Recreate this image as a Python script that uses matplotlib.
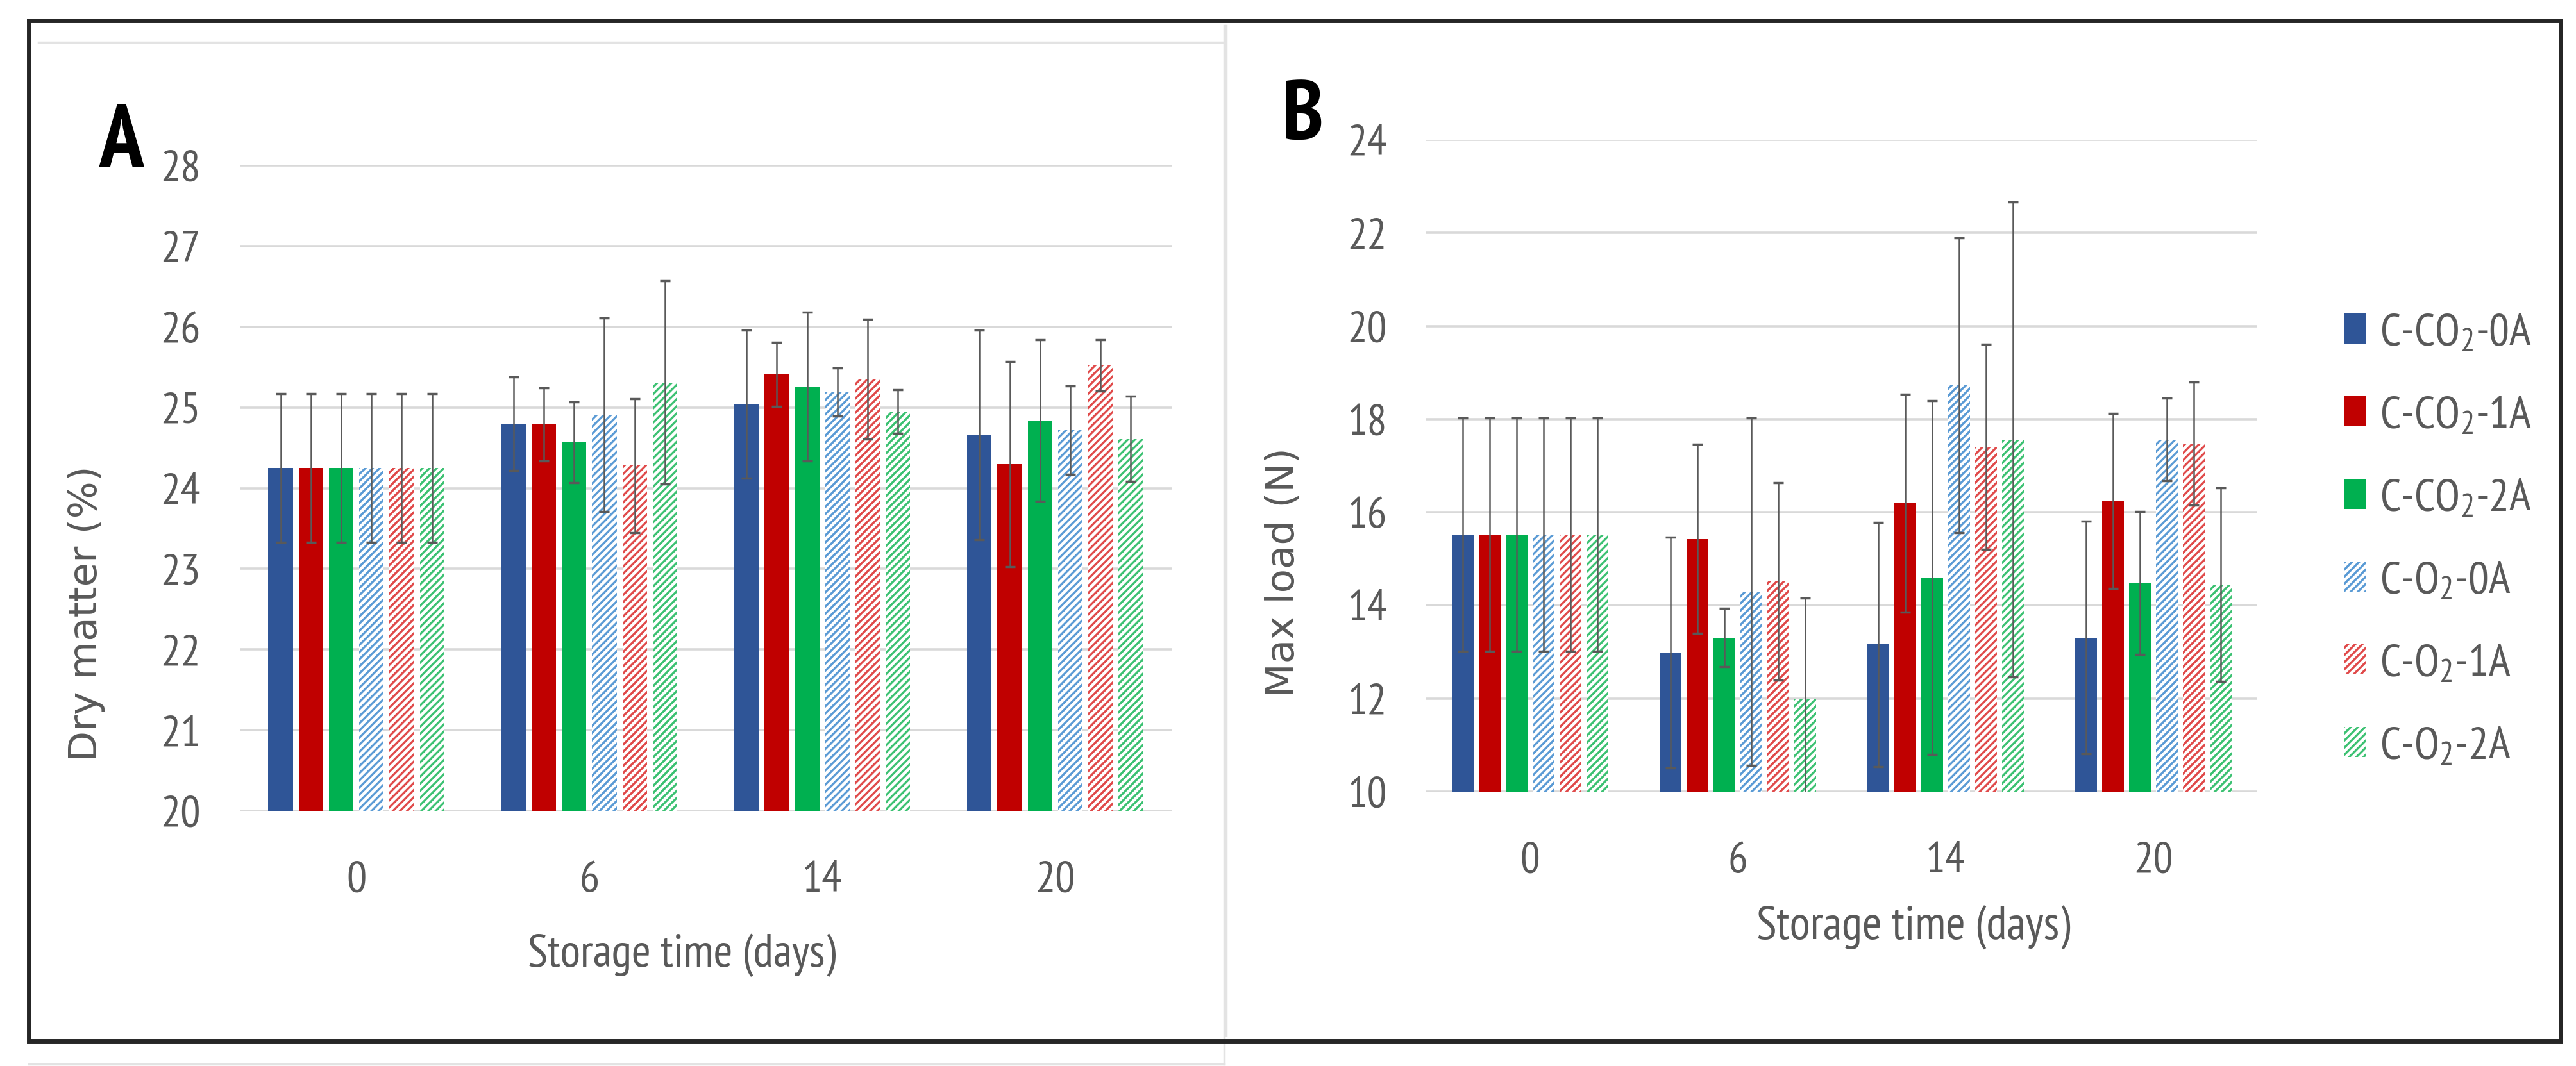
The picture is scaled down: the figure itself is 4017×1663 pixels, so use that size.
import numpy as np
import matplotlib
matplotlib.use("Agg")
import matplotlib.pyplot as plt
from matplotlib.lines import Line2D

plt.rcParams['font.family'] = ['PT Sans Narrow', 'DejaVu Sans']
plt.rcParams['mathtext.fontset'] = 'custom'
plt.rcParams['mathtext.rm'] = 'PT Sans Narrow'
plt.rcParams['mathtext.it'] = 'PT Sans Narrow'
plt.rcParams['hatch.linewidth'] = 2.4

days = ['0', '6', '14', '20']
series = ['C-CO$_2$-0A', 'C-CO$_2$-1A', 'C-CO$_2$-2A', 'C-O$_2$-0A', 'C-O$_2$-1A', 'C-O$_2$-2A']

# dry matter (%) - one list per series, values at day 0, 6, 14, 20
dm_co2_0a = [24.25, 24.80, 25.04, 24.66]
dm_co2_1a = [24.25, 24.79, 25.41, 24.30]
dm_co2_2a = [24.25, 24.57, 25.26, 24.84]
dm_o2_0a = [24.25, 24.91, 25.19, 24.72]
dm_o2_1a = [24.25, 24.28, 25.35, 25.52]
dm_o2_2a = [24.25, 25.31, 24.95, 24.61]
dm_err_co2_0a = [0.92, 0.58, 0.92, 1.30]
dm_err_co2_1a = [0.92, 0.45, 0.40, 1.27]
dm_err_co2_2a = [0.92, 0.50, 0.92, 1.00]
dm_err_o2_0a = [0.92, 1.20, 0.30, 0.55]
dm_err_o2_1a = [0.92, 0.83, 0.74, 0.32]
dm_err_o2_2a = [0.92, 1.26, 0.27, 0.53]

# max load (N)
ml_co2_0a = [15.52, 12.99, 13.16, 13.31]
ml_co2_1a = [15.52, 15.43, 16.19, 16.24]
ml_co2_2a = [15.52, 13.31, 14.60, 14.48]
ml_o2_0a = [15.52, 14.29, 18.73, 17.56]
ml_o2_1a = [15.52, 14.51, 17.41, 17.48]
ml_o2_2a = [15.52, 11.99, 17.56, 14.45]
ml_err_co2_0a = [2.50, 2.48, 2.62, 2.50]
ml_err_co2_1a = [2.50, 2.03, 2.34, 1.88]
ml_err_co2_2a = [2.50, 0.63, 3.80, 1.53]
ml_err_o2_0a = [2.50, 3.73, 3.17, 0.89]
ml_err_o2_1a = [2.50, 2.12, 2.20, 1.32]
ml_err_o2_2a = [2.50, 2.17, 5.10, 2.08]

dm_vals = [dm_co2_0a, dm_co2_1a, dm_co2_2a, dm_o2_0a, dm_o2_1a, dm_o2_2a]
dm_errs = [dm_err_co2_0a, dm_err_co2_1a, dm_err_co2_2a, dm_err_o2_0a, dm_err_o2_1a, dm_err_o2_2a]
ml_vals = [ml_co2_0a, ml_co2_1a, ml_co2_2a, ml_o2_0a, ml_o2_1a, ml_o2_2a]
ml_errs = [ml_err_co2_0a, ml_err_co2_1a, ml_err_co2_2a, ml_err_o2_0a, ml_err_o2_1a, ml_err_o2_2a]

solid_colors = ['#2F5597', '#C00000', '#00B050']
hatch_colors = ['#5B9BD5', '#E04A4A', '#3CC172']

W, H = 4017, 1663
fig = plt.figure(figsize=(W / 100, H / 100), dpi=100)
grey = '#595959'


def px(x, y):
    return x / W, 1 - y / H


def draw_panel(ax, vals, errs, ylim, yticks, tick_size):
    x = np.arange(len(days))
    slot = 0.13
    bw = 0.105
    bars = []
    for i in range(6):
        pos = x + (i - 2.5) * slot
        if i < 3:
            b = ax.bar(pos, np.array(vals[i]) - ylim[0], bw, bottom=ylim[0],
                       color=solid_colors[i], linewidth=0, label=series[i], zorder=2)
        else:
            b = ax.bar(pos, np.array(vals[i]) - ylim[0], bw, bottom=ylim[0],
                       facecolor='white', edgecolor=hatch_colors[i - 3], hatch='///',
                       linewidth=0, label=series[i], zorder=2)
        ax.errorbar(pos, vals[i], yerr=errs[i], fmt='none', ecolor=grey,
                    elinewidth=1.8, capsize=6, capthick=2.5, zorder=3)
        bars.append(b)
    ax.set_xlim(-0.5, 3.5)
    ax.set_ylim(*ylim)
    ax.set_yticks(yticks)
    ax.set_xticks(x)
    ax.set_xticklabels(days)
    for s in ax.spines.values():
        s.set_visible(False)
    ax.yaxis.grid(True, color='#D9D9D9', linewidth=2.6, zorder=0)
    ax.set_axisbelow(True)
    ax.tick_params(axis='both', length=0, colors=grey, labelsize=tick_size)
    ax.tick_params(axis='y', pad=44)
    ax.tick_params(axis='x', pad=56)
    return bars


# panel A
axA = fig.add_axes([374 / W, 1 - 1265 / H, (1827 - 374) / W, (1265 - 258) / H])
draw_panel(axA, dm_vals, dm_errs, (20, 28), range(20, 29), 50)
axA.set_xlabel('Storage time (days)', fontsize=52, color=grey)
axA.xaxis.set_label_coords(0.474, -0.19)
axA.xaxis.label.set_va('top')
fig.text(*px(134, 957), 'Dry matter (%)', rotation=90, ha='center', va='center',
         fontsize=44, color=grey, family='DejaVu Sans')
fig.text(*px(154, 260), 'A', fontsize=100, fontweight='bold', color='black')

# panel B
axB = fig.add_axes([2224 / W, 1 - 1235 / H, (3520 - 2224) / W, (1235 - 218) / H])
barsB = draw_panel(axB, ml_vals, ml_errs, (10, 24), range(10, 25, 2), 49)
axB.set_xlabel('Storage time (days)', fontsize=53, color=grey)
axB.xaxis.set_label_coords(0.586, -0.175)
axB.xaxis.label.set_va('top')
fig.text(*px(2001, 893), 'Max load (N)', rotation=90, ha='center', va='center',
         fontsize=44, color=grey, family='DejaVu Sans')
fig.text(*px(1999, 217), 'B', fontsize=94, fontweight='bold', color='black')

axB.legend(handles=barsB, loc='upper left', bbox_to_anchor=px(3656, 488),
           bbox_transform=fig.transFigure, frameon=False, fontsize=51,
           handlelength=0.48, handleheight=0.64, handletextpad=0.3,
           labelspacing=0.92, borderpad=0, borderaxespad=0, labelcolor=grey)

# light panel box lines and outer frame
light = '#E3E3E3'
for (x0, y0, x1, y1) in [(60, 66, 1909, 66), (1909, 40, 1909, 1660),
                         (45, 1660, 1909, 1660), (1912, 40, 1912, 1615)]:
    a, b = px(x0, y0)
    c, d = px(x1, y1)
    fig.add_artist(Line2D([a, c], [b, d], color=light, linewidth=2.5))

fx0, fy0 = px(45, 32)
fx1, fy1 = px(3993, 1624)
fig.add_artist(Line2D([fx0, fx1, fx1, fx0, fx0], [fy0, fy0, fy1, fy1, fy0],
                      color='#262626', linewidth=5, solid_joinstyle='miter'))

fig.savefig('out.png', dpi=100, facecolor='white')
